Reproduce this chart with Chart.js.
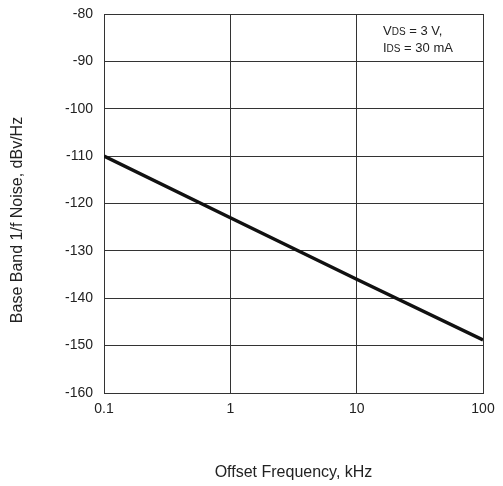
<!DOCTYPE html>
<html>
<head>
<meta charset="utf-8">
<script src="https://cdn.jsdelivr.net/npm/chart.js@4/dist/chart.umd.min.js"></script>
<style>
  html, body { margin: 0; padding: 0; background: #fff; }
  #wrap { width: 503px; height: 486px; }
</style>
</head>
<body>
<div id="wrap"><canvas id="noiseChart" width="503" height="486"></canvas></div>
<script>
// data
const freqKHz = [0.1, 1, 10, 100];
const noiseDbv = [-110, -123, -136, -148.8];
const xTicks = [0.1, 1, 10, 100];
const yMin = -160;
const yMax = -80;
const yTitle = 'Base Band 1/f Noise, dBv/Hz';

// note box in the upper right corner + the y title (sits a bit low in the original)
const notePlugin = {
    id: 'note',
    afterDraw(chart) {
        const ctx = chart.ctx;
        const lines = [['V', 'DS', ' = 3 V,'], ['I', 'DS', ' = 30 mA']];
        ctx.save();
        ctx.fillStyle = '#222';
        ctx.textBaseline = 'alphabetic';
        let y = 35;
        lines.forEach(parts => {
            let x = 383;
            ctx.font = '13px "Liberation Sans", Arial, sans-serif';
            ctx.fillText(parts[0], x, y);
            x += ctx.measureText(parts[0]).width;
            ctx.font = '10px "Liberation Sans", Arial, sans-serif';
            ctx.fillText(parts[1], x, y);
            x += ctx.measureText(parts[1]).width;
            ctx.font = '13px "Liberation Sans", Arial, sans-serif';
            ctx.fillText(parts[2], x, y);
            y += 17;
        });

        ctx.translate(18, 220);
        ctx.rotate(-Math.PI / 2);
        ctx.font = '16px "Liberation Sans", Arial, sans-serif';
        ctx.textAlign = 'center';
        ctx.textBaseline = 'middle';
        ctx.fillText(yTitle, 0, 0);
        ctx.restore();
    }
};

document.addEventListener('DOMContentLoaded', function () {
    const ctx = document.getElementById('noiseChart').getContext('2d');
    Chart.defaults.font.family = '"Liberation Sans", Arial, sans-serif';
    Chart.defaults.color = '#222';

    new Chart(ctx, {
        type: 'line',
        data: {
            datasets: [{
                data: freqKHz.map((f, i) => ({ x: f, y: noiseDbv[i] })),
                borderColor: '#111',
                borderWidth: 3.5,
                pointRadius: 0,
                tension: 0,
                fill: false
            }]
        },
        options: {
            responsive: false,
            animation: false,
            layout: { padding: { left: 0, top: 14, right: 20, bottom: 4 } },
            plugins: { legend: { display: false }, tooltip: { enabled: false } },
            scales: {
                x: {
                    type: 'logarithmic',
                    min: 0.1,
                    max: 100,
                    afterBuildTicks: scale => { scale.ticks = xTicks.map(v => ({ value: v })); },
                    afterFit: scale => { scale.height = 89; },
                    ticks: {
                        padding: 8,
                        font: { size: 14 },
                        maxRotation: 0,
                        callback: v => String(v)
                    },
                    grid: { color: '#333', lineWidth: 1, drawTicks: false },
                    border: { color: '#333', width: 1 },
                    title: {
                        display: true,
                        text: 'Offset Frequency, kHz',
                        font: { size: 16 },
                        padding: { top: 0, bottom: 0 }
                    }
                },
                y: {
                    min: yMin,
                    max: yMax,
                    afterFit: scale => {
                        scale.width = 104;
                        scale.paddingTop = 0;
                        scale.paddingBottom = 0;
                    },
                    ticks: { stepSize: 10, padding: 11, font: { size: 14 } },
                    grid: { color: '#333', lineWidth: 1, drawTicks: false },
                    border: { color: '#333', width: 1 }
                }
            }
        },
        plugins: [notePlugin]
    });
});
</script>
</body>
</html>
